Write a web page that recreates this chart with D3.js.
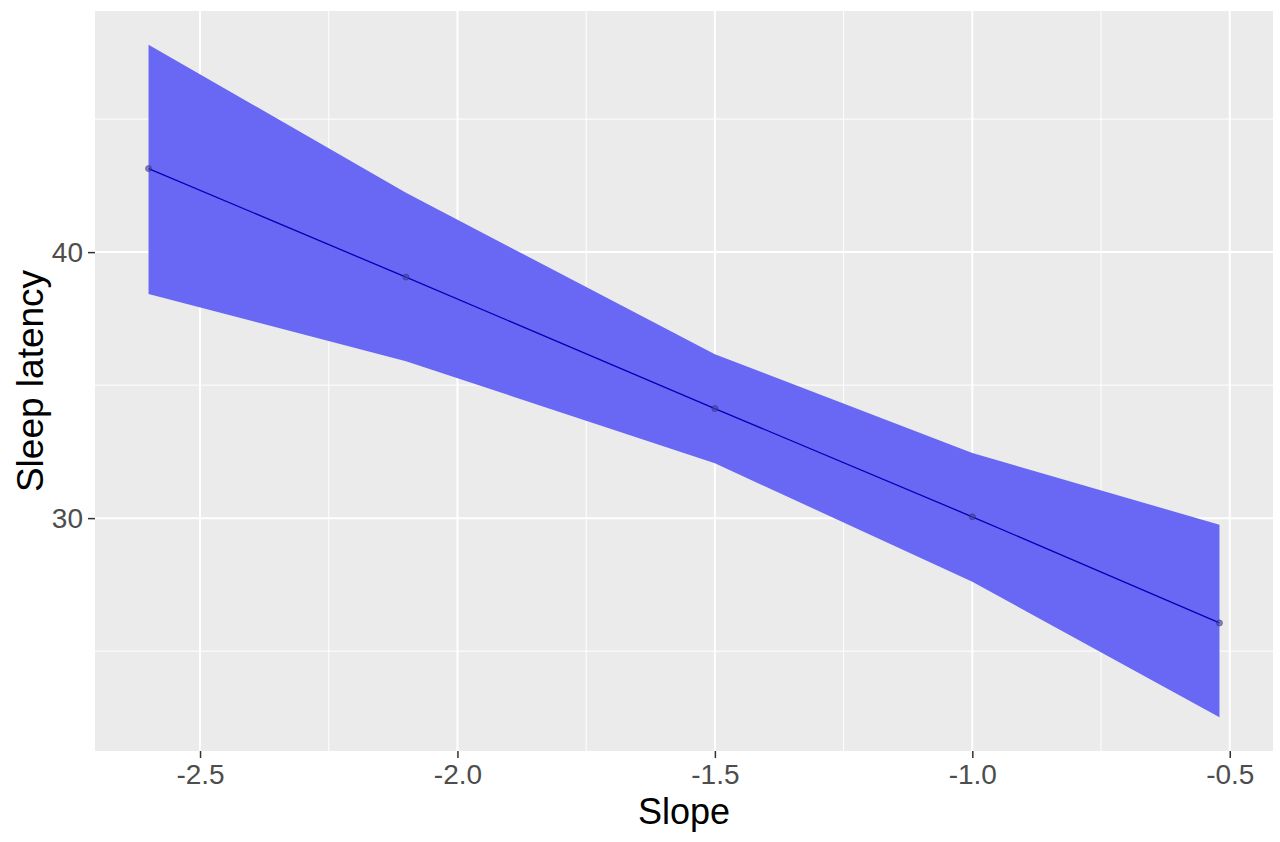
<!DOCTYPE html>
<html>
<head>
<meta charset="utf-8">
<script src="https://cdn.jsdelivr.net/npm/d3@7"></script>
<style>
  body { margin: 0; background: #fff; }
  text { font-family: "Liberation Sans", Arial, sans-serif; }
</style>
</head>
<body>
<div id="chart"></div>
<script>
// values
const slope = [-2.6, -2.1, -1.5, -1.0, -0.52];
const latency = [43.14, 39.06, 34.12, 30.05, 26.06];
const upper = [47.80, 42.23, 36.16, 32.45, 29.75];
const lower = [38.43, 35.90, 32.06, 27.61, 22.51];
const xTicks = [-2.5, -2.0, -1.5, -1.0, -0.5];
const yTicks = [30, 40];
const xMinor = [-2.25, -1.75, -1.25, -0.75];
const yMinor = [25, 35, 45];

const width = 1280, height = 842;
const margin = {top: 11, right: 7, bottom: 91, left: 95};

const data = slope.map((s, i) => ({x: s, y: latency[i], hi: upper[i], lo: lower[i]}));

const svg = d3.select('#chart').append('svg')
  .attr('width', width).attr('height', height);

// ggplot-style 5% expansion of data range
const xExt = d3.extent(slope), xPad = (xExt[1] - xExt[0]) * 0.05;
const yExt = [d3.min(lower), d3.max(upper)], yPad = (yExt[1] - yExt[0]) * 0.05;

const x = d3.scaleLinear()
  .domain([xExt[0] - xPad, xExt[1] + xPad])
  .range([margin.left, width - margin.right]);
const y = d3.scaleLinear()
  .domain([yExt[0] - yPad, yExt[1] + yPad])
  .range([height - margin.bottom, margin.top]);

// panel
svg.append('rect')
  .attr('x', margin.left).attr('y', margin.top)
  .attr('width', width - margin.left - margin.right)
  .attr('height', height - margin.top - margin.bottom)
  .attr('fill', '#ebebeb');

const grid = svg.append('g');
grid.selectAll('.vminor').data(xMinor).join('line')
  .attr('x1', d => x(d)).attr('x2', d => x(d))
  .attr('y1', margin.top).attr('y2', height - margin.bottom)
  .attr('stroke', '#fff').attr('stroke-width', 1);
grid.selectAll('.hminor').data(yMinor).join('line')
  .attr('y1', d => y(d)).attr('y2', d => y(d))
  .attr('x1', margin.left).attr('x2', width - margin.right)
  .attr('stroke', '#fff').attr('stroke-width', 1);
grid.selectAll('.vmajor').data(xTicks).join('line')
  .attr('x1', d => x(d)).attr('x2', d => x(d))
  .attr('y1', margin.top).attr('y2', height - margin.bottom)
  .attr('stroke', '#fff').attr('stroke-width', 2);
grid.selectAll('.hmajor').data(yTicks).join('line')
  .attr('y1', d => y(d)).attr('y2', d => y(d))
  .attr('x1', margin.left).attr('x2', width - margin.right)
  .attr('stroke', '#fff').attr('stroke-width', 2);

// confidence band
svg.append('path')
  .datum(data)
  .attr('fill', '#6868f4')
  .attr('d', d3.area().x(d => x(d.x)).y0(d => y(d.lo)).y1(d => y(d.hi)));

// fitted line
svg.append('path')
  .datum(data)
  .attr('fill', 'none').attr('stroke', '#0000b8').attr('stroke-width', 1.3)
  .attr('d', d3.line().x(d => x(d.x)).y(d => y(d.y)));

svg.append('g').selectAll('circle').data(data).join('circle')
  .attr('cx', d => x(d.x)).attr('cy', d => y(d.y)).attr('r', 3)
  .attr('fill', '#4040c0').attr('fill-opacity', 0.6)
  .attr('stroke', '#333').attr('stroke-opacity', 0.5);

// axes
const xAxis = svg.append('g')
  .attr('transform', `translate(0,${height - margin.bottom})`)
  .call(d3.axisBottom(x).tickValues(xTicks).tickFormat(d => d.toFixed(1)).tickSize(7).tickPadding(6));
const yAxis = svg.append('g')
  .attr('transform', `translate(${margin.left},0)`)
  .call(d3.axisLeft(y).tickValues(yTicks).tickFormat(d => d.toFixed(0)).tickSize(7).tickPadding(5));
[xAxis, yAxis].forEach(a => {
  a.select('.domain').remove();
  a.selectAll('.tick line').attr('stroke', '#333').attr('stroke-width', 1.5);
  a.selectAll('.tick text').attr('fill', '#4d4d4d').style('font-size', '28px')
    .style('font-family', '"Liberation Sans", Arial, sans-serif');
});

svg.append('text')
  .attr('x', (margin.left + width - margin.right) / 2).attr('y', 824)
  .attr('text-anchor', 'middle').attr('fill', '#000')
  .style('font-size', '36px')
  .text('Slope');

svg.append('text')
  .attr('transform', `translate(43,${(margin.top + height - margin.bottom) / 2}) rotate(-90)`)
  .attr('text-anchor', 'middle').attr('fill', '#000')
  .style('font-size', '37px')
  .text('Sleep latency');
</script>
</body>
</html>
